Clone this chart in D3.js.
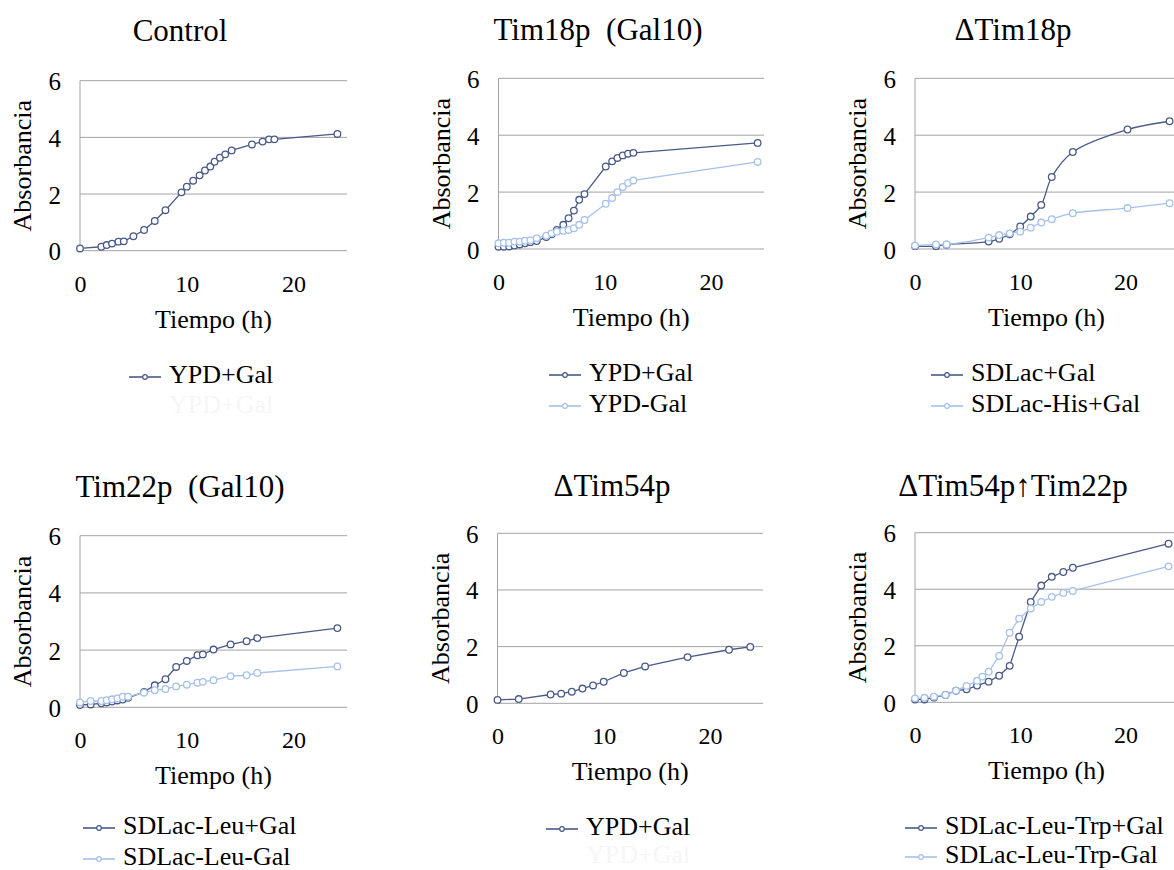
<!DOCTYPE html>
<html>
<head>
<meta charset="utf-8">
<script src="https://cdn.jsdelivr.net/npm/d3@7"></script>
<style>
  body { margin: 0; background: #fff; }
  text { font-family: "Liberation Serif", "Times New Roman", Times, serif; fill: #000; }
</style>
</head>
<body>
<div id="plot"></div>
<script>
// ---- data (time in h, absorbance) ----
const yTicks = [0, 2, 4, 6];
const xTicks = [0, 10, 20];

const controlTime = [0, 2, 2.5, 3, 3.6, 4.1, 5, 6, 7, 8, 9.5, 10, 10.6, 11.2, 11.7, 12.2, 12.6, 13.1, 13.6, 14.2, 16.1, 17.1, 17.7, 18.2, 24.1];
const controlYPDGal = [0.08, 0.14, 0.2, 0.25, 0.32, 0.33, 0.51, 0.73, 1.05, 1.43, 2.06, 2.26, 2.47, 2.66, 2.83, 2.97, 3.14, 3.28, 3.4, 3.54, 3.75, 3.85, 3.93, 3.93, 4.12];

const tim18Time = [0, 0.5, 1, 1.5, 2, 2.5, 3, 3.6, 4.5, 5, 5.5, 6.1, 6.6, 7.1, 7.6, 8.1, 10.1, 10.7, 11.2, 11.7, 12.2, 12.7, 24.4];
const tim18YPDGal = [0.08, 0.08, 0.09, 0.12, 0.16, 0.2, 0.24, 0.28, 0.42, 0.52, 0.67, 0.85, 1.08, 1.35, 1.73, 1.93, 2.9, 3.08, 3.2, 3.29, 3.35, 3.38, 3.73];
const tim18YPDnoGal = [0.2, 0.22, 0.22, 0.26, 0.26, 0.29, 0.31, 0.38, 0.47, 0.55, 0.61, 0.64, 0.67, 0.73, 0.85, 1.02, 1.59, 1.79, 2.0, 2.18, 2.32, 2.41, 3.06];

const dTim18Time = [0, 2, 3, 7, 8, 9, 10, 11, 12, 13, 15, 20.2, 24.2];
const dTim18SDLacGal = [0.1, 0.1, 0.15, 0.26, 0.36, 0.52, 0.79, 1.14, 1.55, 2.53, 3.41, 4.2, 4.49];
const dTim18SDLacHisGal = [0.12, 0.16, 0.16, 0.4, 0.49, 0.55, 0.61, 0.75, 0.93, 1.05, 1.26, 1.44, 1.61];

const tim22Time = [0, 1, 2, 2.5, 3, 3.5, 4, 4.5, 6, 7, 8, 9, 10, 11, 11.5, 12.5, 14.1, 15.6, 16.6, 24.1];
const tim22LeuGal = [0.08, 0.1, 0.14, 0.17, 0.2, 0.24, 0.27, 0.33, 0.54, 0.77, 0.98, 1.41, 1.62, 1.82, 1.85, 2.02, 2.2, 2.31, 2.42, 2.77];
const tim22LeuNoGal = [0.17, 0.22, 0.22, 0.25, 0.28, 0.31, 0.37, 0.37, 0.51, 0.6, 0.64, 0.73, 0.79, 0.86, 0.89, 0.95, 1.09, 1.12, 1.2, 1.43];

const dTim54Time = [0, 2, 5, 6, 7, 8, 9, 10, 11.9, 13.9, 17.9, 21.8, 23.8];
const dTim54YPDGal = [0.12, 0.15, 0.31, 0.34, 0.41, 0.52, 0.63, 0.76, 1.07, 1.3, 1.63, 1.89, 1.99];

const dTim54Time2 = [0, 0.9, 1.8, 2.9, 3.9, 4.9, 5.9, 7, 8, 9, 9.9, 11, 12, 13, 14.1, 15, 24.1];
const dTim54LeuTrpGal = [0.1, 0.1, 0.17, 0.26, 0.41, 0.46, 0.59, 0.73, 0.94, 1.29, 2.32, 3.55, 4.13, 4.44, 4.61, 4.76, 5.61];
const dTim54Time3 = [0, 0.9, 1.8, 2.9, 3.9, 4.9, 5.9, 6.4, 7, 8, 9, 9.9, 11, 12, 13, 14.1, 15, 24.1];
const dTim54LeuTrpNoGal = [0.14, 0.16, 0.2, 0.26, 0.41, 0.58, 0.76, 0.91, 1.08, 1.64, 2.46, 2.96, 3.32, 3.55, 3.73, 3.87, 3.94, 4.81];

const dark = "#4a5a88";
const light = "#a6c1ea";

const W = 1174, H = 870;
const svg = d3.select("#plot").append("svg")
  .attr("width", W)
  .attr("height", H);

const zip = (xs, ys) => xs.map((t, i) => ({ t: t, v: ys[i] }));

const panels = [
  { title: "Control", left: 80, right: 347, top: 80.7, bottom: 250.7, titleX: 180, titleY: 41,
    legX: 129, legY: 377, rowGap: 30, ghost: "YPD+Gal",
    series: [{ name: "YPD+Gal", color: dark, data: zip(controlTime, controlYPDGal) }] },
  { title: "Tim18p  (Gal10)", left: 498.5, right: 764, top: 78.3, bottom: 249, titleX: 598, titleY: 40,
    legX: 549, legY: 375, rowGap: 31,
    series: [{ name: "YPD+Gal", color: dark, data: zip(tim18Time, tim18YPDGal) },
             { name: "YPD-Gal", color: light, data: zip(tim18Time, tim18YPDnoGal) }] },
  { title: "\u0394Tim18p", left: 915, right: 1178, top: 78.3, bottom: 249, titleX: 1013, titleY: 40,
    legX: 931, legY: 375, rowGap: 31, curve: d3.curveCatmullRom,
    series: [{ name: "SDLac+Gal", color: dark, data: zip(dTim18Time, dTim18SDLacGal) },
             { name: "SDLac-His+Gal", color: light, data: zip(dTim18Time, dTim18SDLacHisGal) }] },
  { title: "Tim22p  (Gal10)", left: 80, right: 347, top: 535.7, bottom: 707.3, titleX: 180, titleY: 497,
    legX: 83, legY: 828, rowGap: 31,
    series: [{ name: "SDLac-Leu+Gal", color: dark, data: zip(tim22Time, tim22LeuGal) },
             { name: "SDLac-Leu-Gal", color: light, data: zip(tim22Time, tim22LeuNoGal) }] },
  { title: "\u0394Tim54p", left: 497.5, right: 763, top: 533.3, bottom: 703.3, titleX: 612, titleY: 496,
    legX: 546, legY: 829, rowGap: 28, ghost: "YPD+Gal",
    series: [{ name: "YPD+Gal", color: dark, data: zip(dTim54Time, dTim54YPDGal) }] },
  { title: "\u0394Tim54p\u2191Tim22p", left: 915, right: 1178, top: 532.7, bottom: 702.3, titleX: 1013, titleY: 496,
    legX: 905, legY: 828, rowGap: 29,
    series: [{ name: "SDLac-Leu-Trp+Gal", color: dark, data: zip(dTim54Time2, dTim54LeuTrpGal) },
             { name: "SDLac-Leu-Trp-Gal", color: light, data: zip(dTim54Time3, dTim54LeuTrpNoGal) }] }
];

function drawPanel(p) {
  const x = d3.scaleLinear().domain([0, 25]).range([p.left, p.right]);
  const y = d3.scaleLinear().domain([0, 6]).range([p.bottom, p.top]);
  const g = svg.append("g");

  // horizontal gridlines
  g.selectAll(".grid").data(yTicks).join("line")
    .attr("class", "grid")
    .attr("x1", p.left).attr("x2", p.right)
    .attr("y1", d => y(d)).attr("y2", d => y(d))
    .attr("stroke", "#a3a3a3").attr("stroke-width", 1);

  // vertical axis line
  g.append("line")
    .attr("x1", p.left).attr("x2", p.left)
    .attr("y1", p.top).attr("y2", p.bottom)
    .attr("stroke", "#a3a3a3");

  const yAxis = g.append("g")
    .attr("transform", `translate(${p.left},0)`)
    .call(d3.axisLeft(y).tickValues(yTicks).tickFormat(d3.format("d")).tickSize(0).tickPadding(19));
  yAxis.select(".domain").remove();
  yAxis.attr("font-family", null).attr("font-size", 25);
  yAxis.selectAll("text").attr("dy", "0.36em");

  const xAxis = g.append("g")
    .attr("transform", `translate(0,${p.bottom})`)
    .call(d3.axisBottom(x).tickValues(xTicks).tickFormat(d3.format("d")).tickSize(0).tickPadding(24));
  xAxis.select(".domain").remove();
  xAxis.attr("font-family", null).attr("font-size", 24);

  // titles
  g.append("text")
    .attr("x", p.titleX)
    .attr("y", p.titleY)
    .attr("text-anchor", "middle")
    .attr("font-size", 31)
    .style("white-space", "pre")
    .text(p.title);

  g.append("text")
    .attr("transform", `translate(${p.left - 49},${(p.top + p.bottom) / 2}) rotate(-90)`)
    .attr("text-anchor", "middle")
    .attr("font-size", 26)
    .text("Absorbancia");

  g.append("text")
    .attr("x", (p.left + p.right) / 2)
    .attr("y", p.bottom + 77)
    .attr("text-anchor", "middle")
    .attr("font-size", 26)
    .text("Tiempo (h)");

  // series
  const line = d3.line()
    .x(d => x(d.t))
    .y(d => y(d.v))
    .curve(p.curve || d3.curveLinear);

  p.series.forEach(s => {
    g.append("path")
      .attr("d", line(s.data))
      .attr("fill", "none")
      .attr("stroke", s.color)
      .attr("stroke-width", 1.3);
    g.selectAll(null).data(s.data).join("circle")
      .attr("cx", d => x(d.t))
      .attr("cy", d => y(d.v))
      .attr("r", 3.3)
      .attr("fill", "#fff")
      .attr("stroke", s.color)
      .attr("stroke-width", 1.3);
  });

  // legend (the second, almost white entry is present in the original too)
  const entries = p.series.map(s => ({ name: s.name, color: s.color }));
  if (p.ghost) entries.push({ name: p.ghost, color: null });
  entries.forEach((e, i) => {
    const ly = p.legY + i * p.rowGap;
    if (e.color) {
      g.append("line")
        .attr("x1", p.legX).attr("x2", p.legX + 32)
        .attr("y1", ly).attr("y2", ly)
        .attr("stroke", e.color).attr("stroke-width", 1.6);
      g.append("circle")
        .attr("cx", p.legX + 16).attr("cy", ly).attr("r", 2.3)
        .attr("fill", "#fff").attr("stroke", e.color).attr("stroke-width", 1.2);
    }
    g.append("text")
      .attr("x", p.legX + 40)
      .attr("y", ly + 6)
      .attr("font-size", 26)
      .style("fill", e.color ? "#000" : "#f6f6f6")
      .text(e.name);
  });
}

panels.forEach(drawPanel);
</script>
</body>
</html>
